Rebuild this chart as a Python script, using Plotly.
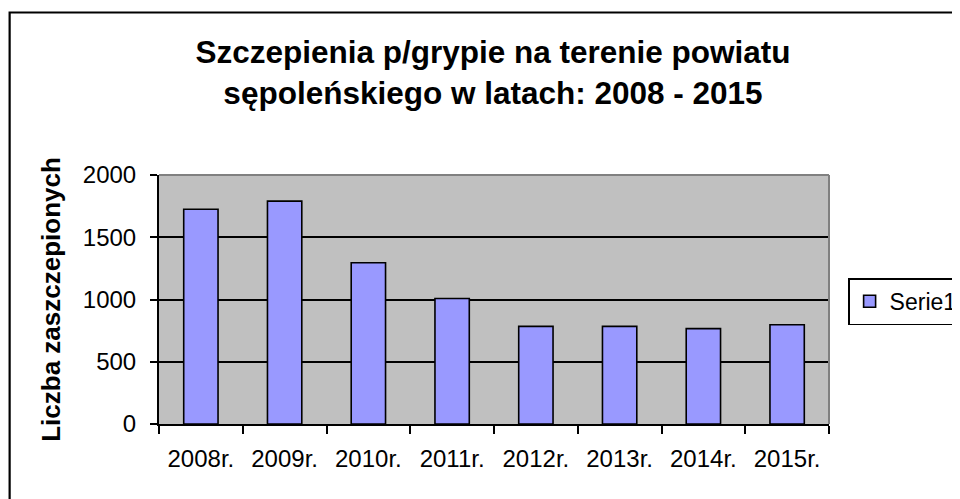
import plotly.graph_objects as go

categories = ["2008r.", "2009r.", "2010r.", "2011r.", "2012r.", "2013r.", "2014r.", "2015r."]
values = [1725, 1790, 1295, 1008, 784, 784, 766, 797]
y_ticks = [0, 500, 1000, 1500, 2000]
series_name = "Serie1"
title_text = "Szczepienia p/grypie na terenie powiatu<br>sępoleńskiego w latach: 2008 - 2015"
y_title = "Liczba zaszczepionych"

# the page body adds an 8px margin, so the figure is sized/shifted to fit the window
OFF = 8
W, H = 960 - OFF, 499 - OFF
L, R, T, B = 159.3 - OFF, 829.0 - OFF, 174.5 - OFF, 424.3 - OFF
pw, ph = R - L, B - T

FONT = "Arial, Liberation Sans, sans-serif"

fig = go.Figure()
fig.add_trace(go.Bar(
    x=categories, y=values, name=series_name,
    marker=dict(color="#9999FF", line=dict(color="black", width=1.6)),
    showlegend=True,
))

def px_x(p):
    return (p - OFF - L) / pw

def px_y(p):
    return (B - (p - OFF)) / ph

fig.update_layout(
    width=W, height=H, autosize=False,
    margin=dict(l=L, r=W - R, t=T, b=H - B, autoexpand=False),
    paper_bgcolor="white",
    plot_bgcolor="#C0C0C0",
    font=dict(family=FONT, size=24, color="black"),
    title=dict(
        text=title_text,
        x=(493 - OFF) / W, xref="container", xanchor="center",
        y=1 - 55 / H, yref="container", yanchor="top",
        font=dict(family=FONT, size=31.5, color="black", weight="bold"),
    ),
    bargap=0.59,
    showlegend=True,
    legend=dict(
        x=px_x(848), y=px_y(278), xanchor="left", yanchor="top",
        xref="paper", yref="paper",
        bordercolor="black", borderwidth=1.6, bgcolor="white",
        font=dict(family=FONT, size=23, color="black"),
        itemwidth=30,
    ),
    xaxis=dict(
        type="category",
        showgrid=False, zeroline=False,
        showline=True, linecolor="black", linewidth=2,
        ticks="outside", tickson="boundaries", ticklen=8, tickwidth=2, tickcolor="black",
        tickfont=dict(family=FONT, size=24, color="black"),
        ticklabelstandoff=12,
        fixedrange=True,
    ),
    yaxis=dict(
        range=[0, 2000], tickvals=y_ticks,
        showgrid=True, gridcolor="black", gridwidth=1.6,
        zeroline=False,
        showline=True, linecolor="black", linewidth=2,
        ticks="outside", ticklen=7, tickwidth=2, tickcolor="black",
        tickfont=dict(family=FONT, size=24, color="black"),
        ticklabelstandoff=9,
        title=dict(text=y_title, font=dict(family=FONT, size=26, color="black", weight="bold"), standoff=15),
        fixedrange=True,
    ),
    shapes=[
        dict(type="line", xref="paper", yref="paper", x0=0, x1=1, y0=1, y1=1,
             line=dict(color="#808080", width=2), layer="above"),
        dict(type="line", xref="paper", yref="paper", x0=1, x1=1, y0=0, y1=1,
             line=dict(color="#808080", width=2), layer="above"),
        dict(type="rect", xref="paper", yref="paper",
             x0=px_x(10), x1=px_x(1000), y0=px_y(560), y1=px_y(11.5),
             line=dict(color="black", width=2.2), layer="below"),
    ],
)

fig.write_html("out.html")
